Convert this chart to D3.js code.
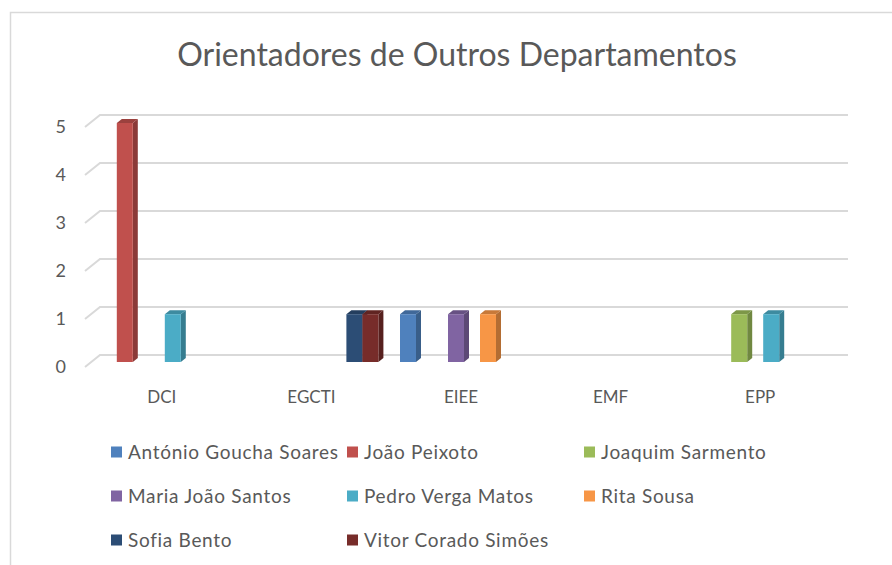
<!DOCTYPE html>
<html>
<head>
	<title>Orientadores de Outros Departamentos</title>
	<meta charset='utf-8'>
	<style>
		body {
			margin: 0;
			background: #fff;
		}

		text {
			font-family: Lato, 'Open Sans', sans-serif;
			fill: #595959;
		}

		.grid {
			fill: none;
			stroke: #d9d9d9;
			stroke-width: 2px;
		}

		.frame {
			fill: none;
			stroke: #d9d9d9;
			stroke-width: 1.5px;
		}
	</style>
</head>
<body>

<script src='https://cdn.jsdelivr.net/npm/d3@7/dist/d3.min.js'></script>
<script>
	'use strict';

	// Dados
	const departamentos = ['DCI', 'EGCTI', 'EIEE', 'EMF', 'EPP'];
	const orientadores = [
		'António Goucha Soares', 'João Peixoto', 'Joaquim Sarmento',
		'Maria João Santos', 'Pedro Verga Matos', 'Rita Sousa',
		'Sofia Bento', 'Vitor Corado Simões'
	];
	const cores = ['#4f81bd', '#c0504d', '#9bbb59', '#8064a2', '#4bacc6', '#f79646', '#2c4d75', '#772c2a'];

	// valores por orientador, na ordem de departamentos
	const antonioGouchaSoares = [0, 0, 1, 0, 0];
	const joaoPeixoto = [5, 0, 0, 0, 0];
	const joaquimSarmento = [0, 0, 0, 0, 1];
	const mariaJoaoSantos = [0, 0, 1, 0, 0];
	const pedroVergaMatos = [1, 0, 0, 0, 1];
	const ritaSousa = [0, 0, 1, 0, 0];
	const sofiaBento = [0, 1, 0, 0, 0];
	const vitorCoradoSimoes = [0, 1, 0, 0, 0];

	const yTicks = [0, 1, 2, 3, 4, 5];

	const valores = [
		antonioGouchaSoares, joaoPeixoto, joaquimSarmento, mariaJoaoSantos,
		pedroVergaMatos, ritaSousa, sofiaBento, vitorCoradoSimoes
	];

	const W = 892, H = 565;
	// profundidade do "3D"
	const wallDx = 15, wallDy = -12;
	const barDx = 5, barDy = -4;
	const barW = 16;

	const svg = d3.select('body').append('svg')
		.attr('width', W)
		.attr('height', H);

	svg.append('rect')
		.attr('class', 'frame')
		.attr('x', 10.5)
		.attr('y', 12.5)
		.attr('width', W + 20)
		.attr('height', H + 20);

	svg.append('text')
		.attr('x', 457)
		.attr('y', 66)
		.attr('text-anchor', 'middle')
		.style('font-size', '32px')
		.text('Orientadores de Outros Departamentos');

	const x0 = d3.scaleBand().domain(departamentos).range([90, 838]);
	const groupPad = (x0.bandwidth() - orientadores.length * barW) / 2;
	const x1 = d3.scaleBand().domain(orientadores)
		.range([groupPad, groupPad + orientadores.length * barW]);

	// parede do fundo e face frontal das barras
	const yWall = d3.scaleLinear().domain([0, 5]).range([355, 115]);
	const yBar = d3.scaleLinear().domain([0, 5]).range([362, 123]);

	const xLeft = 85, xRight = 848;

	// linhas de grelha
	svg.append('g').selectAll('path')
		.data(yTicks)
		.join('path')
		.attr('class', 'grid')
		.attr('d', function(d) {
			const y = yWall(d);
			return 'M' + xLeft + ',' + (y - wallDy) + 'L' + (xLeft + wallDx) + ',' + y + 'L' + xRight + ',' + y;
		});

	svg.append('g').selectAll('text')
		.data(yTicks)
		.join('text')
		.attr('x', 66)
		.attr('y', function(d) {return yWall(d) - wallDy + 6;})
		.attr('text-anchor', 'end')
		.style('font-size', '18px')
		.text(function(d) {return d;});

	// barras
	const barras = [];
	departamentos.forEach(function(dep, i) {
		orientadores.forEach(function(nome, j) {
			if (valores[j][i] > 0) {
				barras.push({dep: dep, nome: nome, valor: valores[j][i], cor: cores[j]});
			}
		});
	});

	const g = svg.append('g').selectAll('g')
		.data(barras)
		.join('g');

	g.each(function(d) {
		const el = d3.select(this);
		const x = x0(d.dep) + x1(d.nome);
		const y = yBar(d.valor);
		const y0 = yBar(0);
		const c = d3.color(d.cor);

		el.append('path')
			.attr('fill', c.darker(0.9))
			.attr('d', 'M' + (x + barW) + ',' + y + 'L' + (x + barW + barDx) + ',' + (y + barDy) +
				'L' + (x + barW + barDx) + ',' + (y0 + barDy) + 'L' + (x + barW) + ',' + y0 + 'Z');
		el.append('path')
			.attr('fill', c.darker(0.6))
			.attr('d', 'M' + x + ',' + y + 'L' + (x + barDx) + ',' + (y + barDy) +
				'L' + (x + barW + barDx) + ',' + (y + barDy) + 'L' + (x + barW) + ',' + y + 'Z');
		el.append('rect')
			.attr('x', x)
			.attr('y', y)
			.attr('width', barW)
			.attr('height', y0 - y)
			.attr('fill', d.cor);
	});

	// eixo das categorias
	svg.append('g').selectAll('text')
		.data(departamentos)
		.join('text')
		.attr('x', function(d) {return x0(d) + x0.bandwidth() / 2 - 3;})
		.attr('y', 403)
		.attr('text-anchor', 'middle')
		.style('font-size', '17px')
		.text(function(d) {return d;});

	// legenda
	const legX = [111, 347, 584];
	const legY = [452, 496, 540];

	const leg = svg.append('g').selectAll('g')
		.data(orientadores)
		.join('g')
		.attr('transform', function(d, i) {
			return 'translate(' + legX[i % 3] + ',' + legY[Math.floor(i / 3)] + ')';
		});

	leg.append('rect')
		.attr('x', 0)
		.attr('y', -5.5)
		.attr('width', 11)
		.attr('height', 11)
		.attr('fill', function(d, i) {return cores[i];});

	leg.append('text')
		.attr('x', 17)
		.attr('y', 7)
		.style('font-size', '19px')
		.style('letter-spacing', '0.7px')
		.text(function(d) {return d;});
</script>
</body>
</html>
